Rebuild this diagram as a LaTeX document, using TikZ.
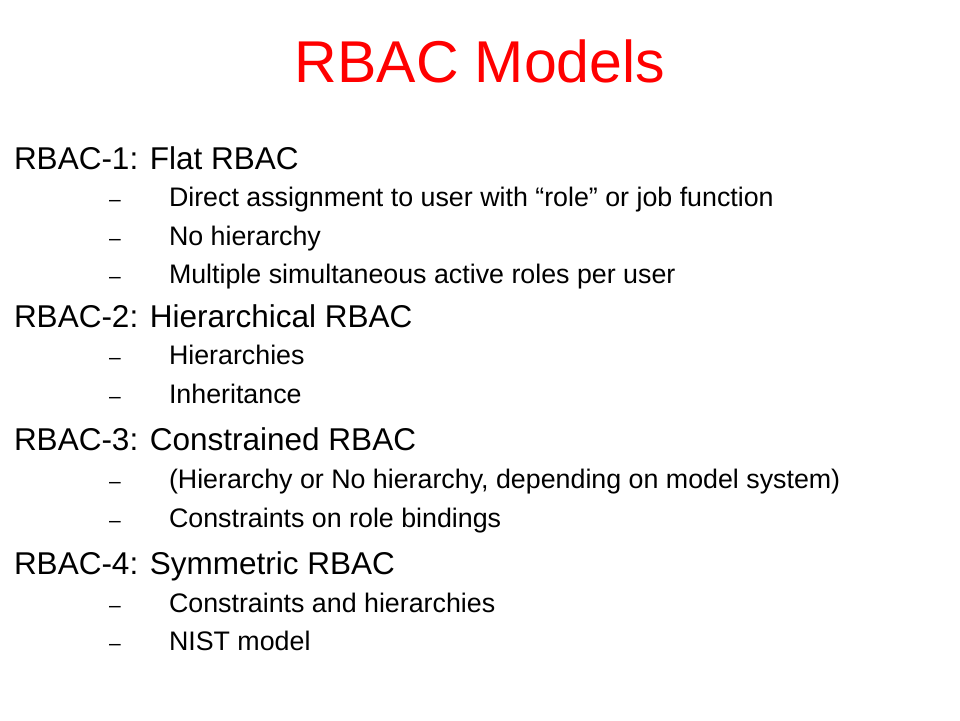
\documentclass[tikz,border=0pt]{standalone}
\usepackage{fontspec}
\setmainfont{Liberation Sans}
\begin{document}
\begin{tikzpicture}[x=1pt,y=-1pt,
  every node/.style={inner sep=0pt,outer sep=0pt},
  ttl/.style={anchor=base,text=red,font=\fontsize{59}{70}\selectfont},
  head/.style={anchor=base west,font=\fontsize{31.5}{38}\selectfont},
  item/.style={anchor=base west,font=\fontsize{26.8}{32}\selectfont},
  dsh/.style={anchor=base west,font=\fontsize{21}{24}\selectfont}]
\useasboundingbox (0,0) rectangle (960,720);
\fill[white] (0,0) rectangle (960,720);
\node[ttl] (title) at (480,82) {RBAC Models};
\node[head] (h1) at (14,169) {RBAC-1: Flat RBAC};
\node[dsh] (d11) at (109,206) {–};
\node[item] (i11) at (169,206) {Direct assignment to user with “role” or job function};
\node[dsh] (d12) at (109,245) {–};
\node[item] (i12) at (169,245) {No hierarchy};
\node[dsh] (d13) at (109,283) {–};
\node[item] (i13) at (169,283) {Multiple simultaneous active roles per user};
\node[head] (h2) at (14,327) {RBAC-2: Hierarchical RBAC};
\node[dsh] (d21) at (109,364) {–};
\node[item] (i21) at (169,364) {Hierarchies};
\node[dsh] (d22) at (109,403) {–};
\node[item] (i22) at (169,403) {Inheritance};
\node[head] (h3) at (14,450) {RBAC-3: Constrained RBAC};
\node[dsh] (d31) at (109,488) {–};
\node[item] (i31) at (169,488) {(Hierarchy or No hierarchy, depending on model system)};
\node[dsh] (d32) at (109,527) {–};
\node[item] (i32) at (169,527) {Constraints on role bindings};
\node[head] (h4) at (14,574) {RBAC-4: Symmetric RBAC};
\node[dsh] (d41) at (109,612) {–};
\node[item] (i41) at (169,612) {Constraints and hierarchies};
\node[dsh] (d42) at (109,650) {–};
\node[item] (i42) at (169,650) {NIST model};
\end{tikzpicture}
\end{document}
